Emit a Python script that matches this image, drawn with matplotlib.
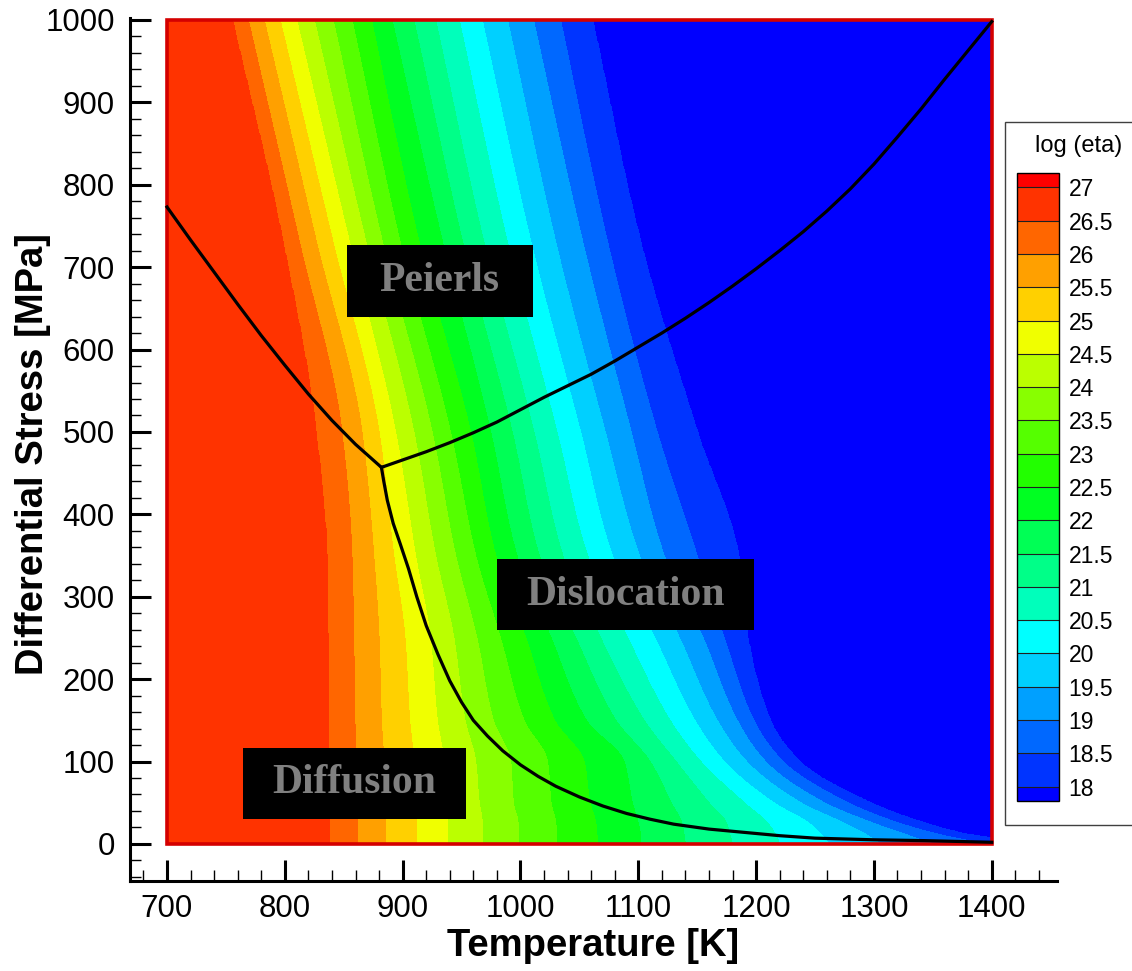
import numpy as np
import matplotlib
matplotlib.use("Agg")
import matplotlib.pyplot as plt
from matplotlib.colors import ListedColormap, BoundaryNorm
from matplotlib.patches import Rectangle

plt.rcParams['font.family'] = ['Liberation Sans', 'DejaVu Sans']

# colour levels of log(eta) and the colour of each band (lowest first)
LEVELS = [18, 18.5, 19, 19.5, 20, 20.5, 21, 21.5, 22, 22.5, 23, 23.5, 24,
          24.5, 25, 25.5, 26, 26.5, 27]
LEVEL_LABELS = ['18', '18.5', '19', '19.5', '20', '20.5', '21', '21.5', '22',
                '22.5', '23', '23.5', '24', '24.5', '25', '25.5', '26',
                '26.5', '27']
BAND_COLORS = ['#0034ff', '#0068ff', '#00a0ff', '#00d0ff', '#00ffff',
               '#00ffbb', '#00ff88', '#00ff55', '#00ff22', '#22ff00',
               '#55ff00', '#88ff00', '#bbff00', '#f0ff00', '#ffd000',
               '#ffa000', '#ff6600', '#ff3300']
UNDER_COLOR = '#0000ff'
OVER_COLOR = '#ff0000'

# contour boundaries: temperature [K] where
# log(eta) crosses each level, at a few stress rows [MPa]
BOUNDARY_LEVELS = [26.5, 26, 25.5, 25, 24.5, 24, 23.5, 23, 22.5, 22, 21.5,
                   21, 20.5, 20, 19.5, 19, 18.5, 18]
ROW_STRESS = [0, 10, 25, 50, 100, 150, 250, 350, 500, 730, 1000]
CONTOUR_T = [
    [838.6, 861.3, 885.4, 911.7, 938.4, 967.6, 998.2, 1030.8, 1065.4, 1102.2,
     1140, 1180, 1220, 1262, 1305, 1350, 1395, 1450],
    [838.6, 861.3, 885.4, 911.7, 938.4, 967.6, 998.2, 1030.8, 1065, 1102,
     1139, 1178, 1217, 1256, 1295, 1330, 1360, 1386],
    [838.6, 861.3, 885.4, 911.7, 938.4, 967.6, 998, 1030, 1064, 1100,
     1137, 1175, 1210, 1245, 1275, 1300, 1322, 1344],
    [838.5, 861, 885, 911, 937, 965, 994, 1026, 1059, 1095,
     1128, 1160, 1190, 1215, 1238, 1258, 1278, 1297],
    [838, 860.7, 884, 909.5, 935, 962, 991.7, 1023, 1054, 1088,
     1110, 1132, 1153, 1173, 1192, 1208, 1223, 1237],
    [837.5, 859.5, 882, 906, 929.5, 953, 977, 1003, 1029, 1056,
     1081, 1105, 1127, 1148, 1167, 1184, 1198, 1212],
    [837, 858.5, 880, 902, 923.5, 943.5, 963, 983, 1004.5, 1026,
     1047, 1068, 1091, 1114, 1135, 1155, 1173, 1193],
    [836, 857, 875.5, 892.5, 911, 928, 945, 962, 979, 997,
     1016, 1036, 1057, 1078, 1101, 1122, 1150, 1185],
    [827, 848.5, 865.5, 880, 894, 909.5, 925, 940.6, 957.7, 974.7,
     993, 1011.5, 1031, 1051, 1072, 1094, 1116, 1150],
    [799, 812.5, 827, 841, 855, 869, 883, 898, 914, 934,
     951, 969, 989, 1009, 1030, 1053, 1074, 1102],
    [756, 769, 782.5, 796, 810, 825, 841, 857, 873.5, 891,
     909.5, 928, 948, 967.5, 989, 1011, 1034, 1061],
]

# mechanism boundaries
PEIERLS_DIFF_T = [700, 720, 740, 760, 780, 800, 820, 840, 860, 882]
PEIERLS_DIFF_S = [773, 733, 694, 655, 617, 581, 546, 514, 485, 457]
PEIERLS_DISL_T = [882, 900, 920, 940, 960, 980, 1000, 1020, 1040, 1060, 1080,
                  1100, 1120, 1140, 1160, 1180, 1200, 1220, 1240, 1260, 1280,
                  1300, 1320, 1340, 1360, 1380, 1400]
PEIERLS_DISL_S = [457, 466, 476, 487, 499, 512, 527, 542, 556, 570, 586,
                  603, 620, 638, 657, 677, 698, 720, 743, 768, 795,
                  825, 858, 892, 928, 963, 998]
DIFF_DISL_T = [882, 884, 887, 892, 898, 905, 912, 920, 930, 940, 950, 960,
               972, 985, 1000, 1015, 1030, 1050, 1070, 1090, 1110, 1130,
               1160, 1190, 1220, 1250, 1300, 1343, 1400]
DIFF_DISL_S = [457, 440, 417, 389, 364, 334, 300, 265, 230, 198, 172, 150,
               131, 113, 96, 82, 70, 57, 46, 37, 30, 24,
               18, 14, 10, 7, 5, 4, 2]

# region labels
REGION_NAMES = ['Peierls', 'Dislocation', 'Diffusion']
REGION_T = [931.5, 1089, 859]
REGION_S = [683, 302.7, 73.5]
REGION_BOX_W = [158, 218, 189]
REGION_BOX_H = 87


def pchip(x, y, xi):
    # monotone cubic through the read points, so the bands bend smoothly
    x = np.asarray(x, float)
    y = np.asarray(y, float)
    h = np.diff(x)
    d = np.diff(y) / h
    m = np.zeros_like(y)
    m[0], m[-1] = d[0], d[-1]
    for k in range(1, len(x) - 1):
        if d[k - 1] * d[k] > 0:
            w1 = 2 * h[k] + h[k - 1]
            w2 = h[k] + 2 * h[k - 1]
            m[k] = (w1 + w2) / (w1 / d[k - 1] + w2 / d[k])
    idx = np.clip(np.searchsorted(x, xi) - 1, 0, len(h) - 1)
    t = (xi - x[idx]) / h[idx]
    return ((2 * t**3 - 3 * t**2 + 1) * y[idx]
            + (t**3 - 2 * t**2 + t) * h[idx] * m[idx]
            + (-2 * t**3 + 3 * t**2) * y[idx + 1]
            + (t**3 - t**2) * h[idx] * m[idx + 1])


# ---- build the log(eta) field from the read boundaries ----
t_grid = np.linspace(700, 1400, 701)
s_grid = np.linspace(0, 1000, 1001)
ct = np.array(CONTOUR_T)
bt = np.array([pchip(ROW_STRESS, ct[:, k], s_grid)
               for k in range(len(BOUNDARY_LEVELS))]).T
field = np.empty((len(s_grid), len(t_grid)))
for i in range(len(s_grid)):
    row = np.maximum.accumulate(bt[i] + np.arange(bt.shape[1]) * 1e-6)
    xp = np.concatenate([[row[0] - 300], row, [row[-1] + 300]])
    fp = np.concatenate([[26.99], BOUNDARY_LEVELS, [17.5]])
    field[i] = np.interp(t_grid, xp, fp)

cmap = ListedColormap(BAND_COLORS)
cmap.set_under(UNDER_COLOR)
cmap.set_over(OVER_COLOR)
norm = BoundaryNorm(LEVELS, cmap.N)

W, H = 1132, 971
fig = plt.figure(figsize=(W / 100, H / 100), dpi=100)
ax = fig.add_axes([130 / W, 1 - 881 / H, (1057 - 130) / W, (881 - 17.5) / H])
ax.set_facecolor('none')

cf = ax.contourf(t_grid, s_grid, field, levels=LEVELS, cmap=cmap, norm=norm,
                 extend='both')

ax.add_patch(Rectangle((700, 0), 700, 1000, fill=False, edgecolor='#d40000',
                       linewidth=2.6, zorder=3))

for tt, ss in [(PEIERLS_DIFF_T, PEIERLS_DIFF_S),
               (PEIERLS_DISL_T, PEIERLS_DISL_S),
               (DIFF_DISL_T, DIFF_DISL_S)]:
    ax.plot(tt, ss, color='black', lw=2.3, zorder=4, solid_joinstyle='round')

for name, tc, sc, bw in zip(REGION_NAMES, REGION_T, REGION_S, REGION_BOX_W):
    ax.add_patch(Rectangle((tc - bw / 2, sc - REGION_BOX_H / 2), bw,
                           REGION_BOX_H, facecolor='black', edgecolor='none',
                           zorder=5))
    ax.text(tc, sc, name, ha='center', va='center', color='#808080',
            fontsize=30, fontweight='bold', family='Liberation Serif',
            zorder=6)

ax.set_xlim(668.6, 1455.4)
ax.set_ylim(-45, 1003)
ax.set_xticks([700, 800, 900, 1000, 1100, 1200, 1300, 1400])
ax.set_xticks(np.arange(680, 1455, 20), minor=True)
ax.set_yticks([0, 100, 200, 300, 400, 500, 600, 700, 800, 900, 1000])
ax.set_yticks(np.arange(-40, 1001, 20), minor=True)

for side in ['top', 'right']:
    ax.spines[side].set_visible(False)
for side in ['left', 'bottom']:
    ax.spines[side].set_linewidth(2.2)
ax.tick_params(which='major', direction='in', length=15, width=2.2,
               labelsize=22.5, color='black')
ax.tick_params(axis='x', which='major', pad=9)
ax.tick_params(axis='y', which='major', pad=11)
ax.tick_params(which='minor', direction='in', length=8, width=1.0)

ax.set_xlabel('Temperature [K]', fontsize=27.5, fontweight='bold')
ax.set_ylabel('Differential Stress [MPa]', fontsize=27.5, fontweight='bold')
ax.xaxis.set_label_coords(0.5, -0.054)
ax.yaxis.set_label_coords(-0.085, 0.495)

# legend box with colour bar
fig.patches.append(Rectangle((1005 / W, 1 - 825 / H), 200 / W, 703 / H,
                             transform=fig.transFigure, facecolor='white',
                             edgecolor='#404040', linewidth=1.0, zorder=-1))
cax = fig.add_axes([1017 / W, 1 - 801 / H, 42 / W, 628 / H])
cb = fig.colorbar(cf, cax=cax, extendrect=True, extendfrac=0.024,
                  drawedges=True)
cb.set_ticks(LEVELS)
cb.set_ticklabels(LEVEL_LABELS)
cb.dividers.set_color('#202020')
cb.dividers.set_linewidth(0.8)
cb.outline.set_linewidth(1.0)
cax.tick_params(length=0, pad=7, labelsize=16.5)
fig.text(1079 / W, 1 - 146 / H, 'log (eta)', ha='center', va='center',
         fontsize=17)

fig.savefig('out.png', dpi=100)
